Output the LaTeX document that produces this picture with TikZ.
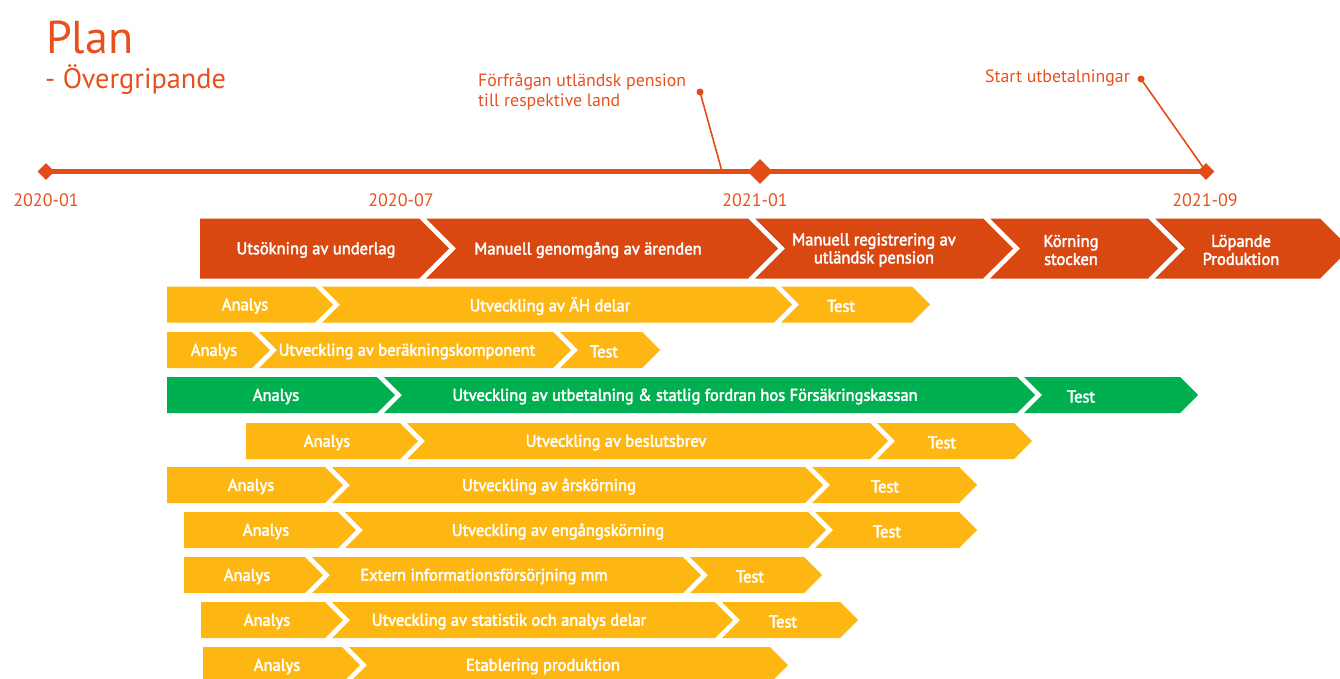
\documentclass[tikz,border=0pt]{standalone}
\usepackage{fontspec}
\setmainfont{PT Sans}
\newfontfamily\chevfont[FakeBold=2.5,FakeStretch=0.97]{PT Sans}
\usetikzlibrary{shapes.geometric}
\definecolor{fkorange}{RGB}{218,72,18}
\definecolor{fktext}{RGB}{232,80,30}
\definecolor{fkline}{RGB}{226,76,22}
\definecolor{fkyellow}{RGB}{254,183,18}
\definecolor{fkgreen}{RGB}{0,176,80}
% color, L, R, yc, d
\newcommand\chevflat[5]{%
  \fill[#1] (#2,{#4-#5}) -- ({#3-#5},{#4-#5}) -- (#3,#4) -- ({#3-#5},{#4+#5}) -- (#2,{#4+#5}) -- cycle;}
\newcommand\chevnotch[5]{%
  \fill[#1] ({#2-#5},{#4-#5}) -- ({#3-#5},{#4-#5}) -- (#3,#4) -- ({#3-#5},{#4+#5}) -- ({#2-#5},{#4+#5}) -- (#2,#4) -- cycle;}
\tikzset{
  lbl/.style={text=white,font=\chevfont\fontsize{17}{18}\selectfont,align=center,inner sep=0pt,yshift=-1.5pt},
  tl/.style={text=fktext,font=\fontsize{18}{19}\selectfont,inner sep=0pt},
  call/.style={text=fktext,font=\fontsize{17.8}{20}\selectfont,inner sep=0pt,align=left},
  dia/.style={fill=fkline,diamond,inner sep=0pt,minimum size=#1},
  dot/.style={fill=fkline,circle,inner sep=0pt,minimum size=7},
  calline/.style={draw=fkline,line width=1.6},
}
\begin{document}
\begin{tikzpicture}[x=1pt,y=-1pt]
\useasboundingbox (0,0) rectangle (1340,678);
% title
\node[anchor=base west,inner sep=0pt,text=fktext,font=\fontsize{46}{48}\selectfont] (title) at (46,53) {Plan};
\node[anchor=base west,inner sep=0pt,text=fktext,font=\fontsize{28.3}{30}\selectfont] (subtitle) at (45,88) {- Övergripande};
% timeline
\coordinate (t0) at (46,171.5);
\coordinate (tq) at (722,171.5);
\coordinate (t1) at (760,171.5);
\coordinate (t2) at (1206,171.5);
\draw[fkline,line width=5.5] (t0) -- (t2);
\node[dia=17] (d0) at (t0) {};
\node[dia=25] (d1) at (t1) {};
\node[dia=17] (d2) at (t2) {};
\node[tl] (l0) at (46,200) {2020-01};
\node[tl] (l1) at (401,200) {2020-07};
\node[tl] (l2) at (755,200) {2021-01};
\node[tl] (l3) at (1205,200) {2021-09};
% callouts
\node[call,anchor=west] (c1) at (478,92) {Förfrågan utländsk pension\\till respektive land};
\node[dot] (c1d) at (700,92) {};
\draw[calline] (c1d.center) -- (tq);
\node[call,anchor=east] (c2) at (1130,78) {Start utbetalningar};
\node[dot] (c2d) at (1141,79) {};
\draw[calline] (c2d.center) -- (t2);
% row 0
\chevflat{fkorange}{200}{449}{248.5}{30}
\chevnotch{fkorange}{456}{778}{248.5}{30}
\chevnotch{fkorange}{785}{1013}{248.5}{30}
\chevnotch{fkorange}{1020}{1178}{248.5}{30}
\chevnotch{fkorange}{1185}{1350}{248.5}{30}
\node[lbl] (r0a) at (316,248.5) {Utsökning av underlag};
\node[lbl] (r0b) at (588,248.5) {Manuell genomgång av ärenden};
\node[lbl] (r0c) at (874,248.5) {Manuell registrering av\\utländsk pension};
\node[lbl] (r0d) at (1071,248.5) {Körning\\stocken};
\node[lbl] (r0e) at (1241,248.5) {Löpande\\Produktion};
% row 1
\chevflat{fkyellow}{167}{333}{304.5}{18}
\chevnotch{fkyellow}{340}{792}{304.5}{18}
\chevnotch{fkyellow}{799}{930}{304.5}{18}
\node[lbl] (r1a) at (245,304.5) {Analys};
\node[lbl] (r1b) at (550,304.5) {Utveckling av ÄH delar};
\node[lbl] (r1c) at (841,304.5) {Test};
% row 2
\chevflat{fkyellow}{167}{270}{350}{18}
\chevnotch{fkyellow}{277}{571}{350}{18}
\chevnotch{fkyellow}{578}{660}{350}{18}
\node[lbl] (r2a) at (214,350) {Analys};
\node[lbl] (r2b) at (407,350) {Utveckling av beräkningskomponent};
\node[lbl] (r2c) at (604,350) {Test};
% row 3
\chevflat{fkgreen}{167}{395}{395}{18}
\chevnotch{fkgreen}{402}{1035}{395}{18}
\chevnotch{fkgreen}{1042}{1198}{395}{18}
\node[lbl] (r3a) at (276,395) {Analys};
\node[lbl] (r3b) at (685,395) {Utveckling av utbetalning \& statlig fordran hos Försäkringskassan};
\node[lbl] (r3c) at (1081,395) {Test};
% row 4
\chevflat{fkyellow}{246}{418}{441}{18}
\chevnotch{fkyellow}{425}{888}{441}{18}
\chevnotch{fkyellow}{895}{1032}{441}{18}
\node[lbl] (r4a) at (327,441) {Analys};
\node[lbl] (r4b) at (616,441) {Utveckling av beslutsbrev};
\node[lbl] (r4c) at (942,441) {Test};
% row 5
\chevflat{fkyellow}{167}{343}{485}{18}
\chevnotch{fkyellow}{350}{823}{485}{18}
\chevnotch{fkyellow}{830}{977}{485}{18}
\node[lbl] (r5a) at (251,485) {Analys};
\node[lbl] (r5b) at (549,485) {Utveckling av årskörning};
\node[lbl] (r5c) at (885,485) {Test};
% row 6
\chevflat{fkyellow}{184}{356}{530}{18}
\chevnotch{fkyellow}{363}{826}{530}{18}
\chevnotch{fkyellow}{833}{977}{530}{18}
\node[lbl] (r6a) at (266,530) {Analys};
\node[lbl] (r6b) at (558,530) {Utveckling av engångskörning};
\node[lbl] (r6c) at (887,530) {Test};
% row 7
\chevflat{fkyellow}{184}{323}{575}{18}
\chevnotch{fkyellow}{330}{701}{575}{18}
\chevnotch{fkyellow}{708}{822}{575}{18}
\node[lbl] (r7a) at (247,575) {Analys};
\node[lbl] (r7b) at (484,575) {Extern informationsförsörjning mm};
\node[lbl] (r7c) at (750,575) {Test};
% row 8
\chevflat{fkyellow}{201}{343}{620}{18}
\chevnotch{fkyellow}{350}{733}{620}{18}
\chevnotch{fkyellow}{740}{858}{620}{18}
\node[lbl] (r8a) at (267,620) {Analys};
\node[lbl] (r8b) at (509,620) {Utveckling av statistik och analys delar};
\node[lbl] (r8c) at (783,620) {Test};
% row 9
\chevflat{fkyellow}{203}{360}{665}{18}
\chevnotch{fkyellow}{367}{788}{665}{18}
\node[lbl] (r9a) at (277,665) {Analys};
\node[lbl] (r9b) at (543,665) {Etablering produktion};
\end{tikzpicture}
\end{document}
